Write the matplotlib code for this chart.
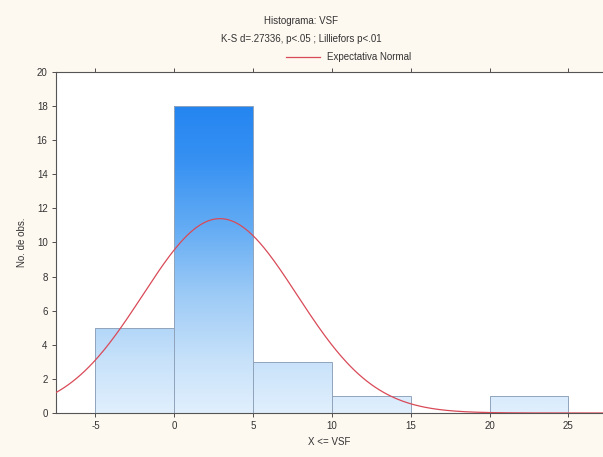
import numpy as np
import matplotlib
matplotlib.use("Agg")
import matplotlib.pyplot as plt
from matplotlib.colors import LinearSegmentedColormap
from matplotlib.lines import Line2D

plt.rcParams["font.family"] = ["Liberation Sans", "DejaVu Sans"]
plt.rcParams["axes.unicode_minus"] = False

# histogram data
bin_edges = [-5, 0, 5, 10, 15, 20, 25]
counts = [5, 18, 3, 1, 0, 1]

# fitted normal (expected counts = n * bin width * pdf)
n_obs = sum(counts)
bin_width = 5
mu = 2.9
sigma = 4.9

x_ticks = [-5, 0, 5, 10, 15, 20, 25]
y_ticks = [0, 2, 4, 6, 8, 10, 12, 14, 16, 18, 20]

fig = plt.figure(figsize=(6.03, 4.57), dpi=100)
fig.patch.set_facecolor("#fdf8f0")
ax = fig.add_axes([0.0929, 0.0963, 0.9071, 0.7462])
ax.set_facecolor("white")

xmin, xmax = -7.5, 27.2
ymin, ymax = 0, 20

# vertical gradient shared by all bars (light at 0, deep blue near 20)
cmap = LinearSegmentedColormap.from_list(
    "bars", [(0.0, "#e0effd"), (0.15, "#c8e2fa"), (0.35, "#9ccaf6"),
             (0.55, "#62abf4"), (0.75, "#3590f2"), (1.0, "#1a7ef0")])
grad = np.linspace(0, 1, 256).reshape(-1, 1)

for left, right, c in zip(bin_edges[:-1], bin_edges[1:], counts):
    if c == 0:
        continue
    rect = plt.Rectangle((left, 0), right - left, c, facecolor="none",
                         edgecolor="#90a4bc", linewidth=0.7, zorder=3)
    ax.add_patch(rect)
    img = ax.imshow(grad, cmap=cmap, origin="lower", aspect="auto",
                    extent=(left, right, ymin, ymax), zorder=2,
                    interpolation="bilinear")
    img.set_clip_path(rect)

xs = np.linspace(xmin, xmax, 400)
expected = n_obs * bin_width / (sigma * np.sqrt(2 * np.pi)) * np.exp(-0.5 * ((xs - mu) / sigma) ** 2)
ax.plot(xs, expected, color="#d94a58", linewidth=0.9, zorder=4)

ax.set_xlim(xmin, xmax)
ax.set_ylim(ymin, ymax)
ax.set_xticks(x_ticks)
ax.set_yticks(y_ticks)
ax.tick_params(axis="both", labelsize=7, colors="#333333", length=3, width=0.6,
               direction="out", pad=3)
ax.tick_params(axis="x", top=True)
for side in ["left", "bottom", "top"]:
    ax.spines[side].set_color("#555555")
    ax.spines[side].set_linewidth(0.8)
ax.spines["right"].set_visible(False)

ax.set_xlabel("X <= VSF", fontsize=7, color="#333333", labelpad=4)
ax.set_ylabel("No. de obs.", fontsize=7, color="#333333", labelpad=7)

fig.text(0.5, 0.954, "Histograma: VSF", ha="center", va="center", fontsize=7, color="#333333")
fig.text(0.5, 0.915, "K-S d=.27336, p<.05 ; Lilliefors p<.01", ha="center", va="center",
         fontsize=7, color="#333333")
fig.add_artist(Line2D([0.475, 0.530], [0.876, 0.876], color="#d94a58", linewidth=0.9))
fig.text(0.542, 0.876, "Expectativa Normal", ha="left", va="center", fontsize=7, color="#333333")

fig.savefig("out.png", dpi=100, facecolor=fig.get_facecolor())
